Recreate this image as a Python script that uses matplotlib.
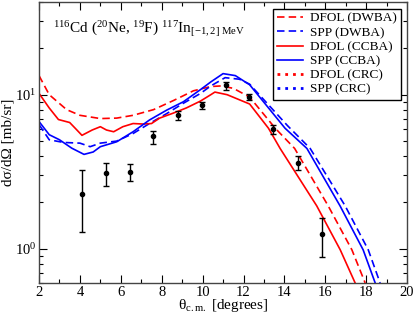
import numpy as np
import matplotlib
matplotlib.use("Agg")
import matplotlib.pyplot as plt
from matplotlib.ticker import MultipleLocator, LogLocator

plt.rcParams['font.family'] = ['Liberation Serif', 'DejaVu Serif']
plt.rcParams['mathtext.fontset'] = 'custom'
plt.rcParams['mathtext.rm'] = 'Liberation Serif'
plt.rcParams['mathtext.it'] = 'Liberation Serif:italic'

# DFOL (DWBA)
th_dfol_dwba = [2.0, 2.5, 3.35, 4.0, 5.0, 5.8, 6.6, 7.6, 8.6, 9.55, 10.4, 10.9,
                11.5, 12.3, 13.55, 14.5, 16.14, 17.3, 17.95]
xs_dfol_dwba = [13.3, 10.0, 8.0, 7.35, 7.0, 7.05, 7.35, 8.0, 9.2, 10.6, 11.3, 11.4,
                11.0, 9.65, 6.06, 4.48, 1.9, 0.985, 0.6]

# SPP (DWBA)
th_spp_dwba = [2.0, 2.5, 3.2, 4.0, 4.5, 5.0, 5.8, 6.6, 7.4, 8.25, 9.06, 9.9, 10.4,
               11.1, 11.8, 12.3, 14.15, 15.26, 16.97, 18.1, 18.68]
xs_spp_dwba = [6.4, 5.1, 4.9, 4.85, 4.6, 4.85, 5.0, 5.6, 6.5, 7.55, 8.8, 10.2, 11.4,
               12.9, 12.6, 11.7, 6.3, 4.48, 1.9, 0.985, 0.6]

# DFOL (CCBA)
th_dfol_ccba = [2.0, 2.5, 2.95, 3.5, 3.8, 4.1, 4.6, 5.0, 5.3, 5.65, 6.1, 6.6, 7.1,
                7.5, 7.9, 8.57, 9.2, 9.9, 10.4, 10.6, 11.2, 12.3, 13.22, 13.79,
                15.58, 16.73, 17.46]
xs_dfol_ccba = [10.2, 8.2, 6.9, 6.6, 6.0, 5.45, 5.9, 6.2, 5.9, 5.75, 6.2, 6.5, 6.45,
                6.5, 7.05, 7.6, 8.2, 9.1, 10.0, 10.4, 10.0, 8.7, 6.06, 4.48,
                1.9, 0.985, 0.6]

# SPP (CCBA)
th_spp_ccba = [2.0, 2.5, 3.0, 3.6, 4.2, 4.65, 5.0, 5.8, 6.6, 7.4, 8.25, 9.06, 9.9,
               10.4, 11.0, 11.6, 12.3, 14.03, 15.1, 16.72, 17.85, 18.44]
xs_spp_ccba = [6.7, 5.5, 5.1, 4.5, 4.1, 4.25, 4.6, 4.95, 5.75, 6.85, 7.95, 9.0, 10.8,
               12.1, 13.7, 13.3, 11.6, 6.06, 4.48, 1.9, 0.985, 0.6]

# CRC curves (not visible in the plotted range)
th_dfol_crc, xs_dfol_crc = [], []
th_spp_crc, xs_spp_crc = [], []

# experimental data
th_exp = [4.12, 5.26, 6.45, 7.58, 8.8, 9.97, 11.15, 12.29, 13.46, 14.64, 15.83]
xs_exp = [2.27, 3.11, 3.15, 5.37, 7.4, 8.6, 11.5, 9.7, 6.0, 3.62, 1.24]
err_lo = [0.98, 0.55, 0.39, 0.57, 0.5, 0.5, 0.7, 0.4, 0.4, 0.35, 0.36]
err_hi = [0.99, 0.51, 0.38, 0.43, 0.4, 0.4, 0.5, 0.4, 0.4, 0.38, 0.35]

fig = plt.figure(figsize=(4.15, 3.18), dpi=100)
ax = fig.add_axes([0.094, 0.110, 0.887, 0.884])

lw = 1.2
ax.plot(th_dfol_dwba, xs_dfol_dwba, color='red', lw=lw, dashes=(4.5, 2.5), label='DFOL (DWBA)')
ax.plot(th_spp_dwba, xs_spp_dwba, color='blue', lw=lw, dashes=(4.5, 2.5), label='SPP (DWBA)')
ax.plot(th_dfol_ccba, xs_dfol_ccba, color='red', lw=lw, label='DFOL (CCBA)')
ax.plot(th_spp_ccba, xs_spp_ccba, color='blue', lw=lw, label='SPP (CCBA)')
ax.plot(th_dfol_crc, xs_dfol_crc, color='red', lw=2, dashes=(1, 1.8), label='DFOL (CRC)')
ax.plot(th_spp_crc, xs_spp_crc, color='blue', lw=2, dashes=(1, 1.8), label='SPP (CRC)')

ax.errorbar(th_exp, xs_exp, yerr=[err_lo, err_hi], fmt='o', color='black',
            ms=3, lw=1, capsize=2.5, capthick=1)

ax.set_yscale('log')
ax.set_xlim(2, 20)
ax.set_ylim(0.6, 40)
ax.xaxis.set_major_locator(MultipleLocator(2))
ax.xaxis.set_minor_locator(MultipleLocator(1))
ax.yaxis.set_major_locator(LogLocator(base=10))
ax.yaxis.set_minor_locator(LogLocator(base=10, subs=np.arange(2, 10)))
ax.tick_params(which='both', direction='in', top=True, right=True, labelsize=10.5)
ax.tick_params(which='major', length=6, width=0.8, pad=2)
ax.tick_params(which='minor', length=3, width=0.8)
for s in ax.spines.values():
    s.set_linewidth(1.0)
    s.set_color('#444444')

ax.set_xlabel(r'θ$_{\mathrm{c.m.}}$ [degrees]', fontsize=11, labelpad=-1)
ax.set_ylabel('dσ/dΩ [mb/sr]', fontsize=11, labelpad=0)

ax.text(0.038, 0.905,
        r'$^{116}$Cd ($^{20}$Ne, $^{19}$F) $^{117}$In$_{[-1,2]\ \mathrm{MeV}}$',
        transform=ax.transAxes, fontsize=11, va='center', ha='left')

leg = ax.legend(loc='upper right', fontsize=9.5, frameon=True, fancybox=False,
                framealpha=1, edgecolor='black', borderpad=0.3, labelspacing=0.15,
                handlelength=2.0, handletextpad=0.5, borderaxespad=0.5)
leg.get_frame().set_linewidth(1.0)

fig.savefig('out.png', dpi=100)
